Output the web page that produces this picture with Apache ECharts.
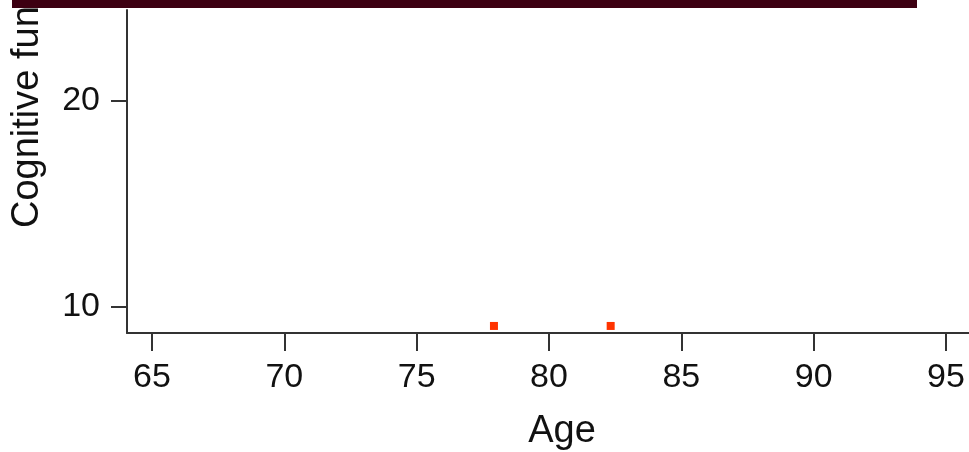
<!DOCTYPE html>
<html>
<head>
<meta charset="utf-8">
<script src="https://cdn.jsdelivr.net/npm/echarts@6/dist/echarts.min.js"></script>
<style>html,body{margin:0;padding:0;background:#fff;}#chart{width:969px;height:452px;}</style>
</head>
<body>
<div id="chart"></div>
<script>
const ages = [77.92, 82.33];
const scores = [9.08, 9.08];
const xTicks = [65, 70, 75, 80, 85, 90, 95];
const yTicks = [10, 20];

const chart = echarts.init(document.getElementById('chart'), null, {renderer: 'canvas'});
const font = "'Liberation Sans', Arial, Helvetica, sans-serif";
const axisColor = '#333333';
chart.setOption({
  animation: false,
  backgroundColor: '#ffffff',
  grid: {left: 127, right: 0, top: 10, bottom: 119, containLabel: false},
  xAxis: {
    type: 'value', min: 64.055, max: 95.869,
    axisLine: {show: true, lineStyle: {color: axisColor, width: 2}},
    axisTick: {show: true, inside: false, length: 18, lineStyle: {color: axisColor, width: 2}, customValues: xTicks},
    axisLabel: {customValues: xTicks, color: '#111', fontSize: 34, fontFamily: font, margin: 28},
    splitLine: {show: false}
  },
  yAxis: {
    type: 'value', min: 8.738, max: 24.417,
    axisLine: {show: true, lineStyle: {color: axisColor, width: 2}},
    axisTick: {show: true, inside: false, length: 16, lineStyle: {color: axisColor, width: 2}, customValues: yTicks},
    axisLabel: {customValues: yTicks, color: '#111', fontSize: 34, fontFamily: font, margin: 27},
    splitLine: {show: false}
  },
  graphic: [
    {type: 'rect', left: 12, top: 0, shape: {width: 905, height: 8}, style: {fill: '#3d0012'}, z: 10},
    {type: 'text', x: 28, y: 228, rotation: Math.PI / 2,
     style: {text: 'Cognitive function', font: "38px " + font, fill: '#111', textAlign: 'left', textVerticalAlign: 'middle'}},
    {type: 'text', x: 562, y: 432,
     style: {text: 'Age', font: "38px " + font, fill: '#111', textAlign: 'center', textVerticalAlign: 'middle'}}
  ],
  series: [{
    type: 'scatter',
    data: ages.map((a, i) => [a, scores[i]]),
    symbol: 'rect', symbolSize: 8,
    itemStyle: {color: '#ff3300', opacity: 1}
  }]
});
</script>
</body>
</html>
